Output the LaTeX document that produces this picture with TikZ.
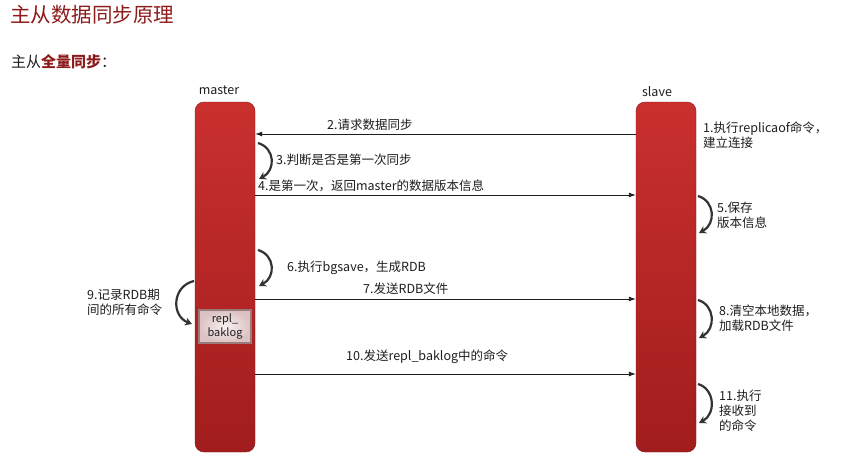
\documentclass[tikz,border=0pt]{standalone}
\usepackage{fontspec}
\setmainfont{Noto Sans CJK SC}
\newfontfamily\cjk{Noto Sans CJK SC}
\usetikzlibrary{arrows.meta}
\definecolor{titlered}{HTML}{8E1B1B}
\definecolor{bartop}{HTML}{C9302E}
\definecolor{barbot}{HTML}{A11D1D}
\definecolor{txt}{HTML}{1E1E1E}
\definecolor{curvc}{HTML}{333333}
\definecolor{loginner}{HTML}{F8F0F0}
\definecolor{logouter}{HTML}{DCC2C2}
\definecolor{logedge}{HTML}{9C7A7A}
\begin{document}
\begin{tikzpicture}[x=1pt,y=-1pt,
  bar/.style={rectangle, rounded corners=9pt, top color=bartop, bottom color=barbot,
    draw=barbot!80!black, line width=0.4pt, minimum width=60pt, minimum height=350pt, inner sep=0pt},
  lbl/.style={font=\cjk\fontsize{12.5}{15}\selectfont, text=txt, anchor=west, inner sep=0pt, align=left},
  hdr/.style={font=\cjk\fontsize{12.5}{15}\selectfont, text=txt, inner sep=0pt},
  msg/.style={draw=txt, line width=0.9pt, -{Latex[length=7pt,width=5pt]}},
  curv/.style={draw=curvc, line width=2.2pt, -{Stealth[length=7pt,width=8pt]}},
  logbox/.style={rectangle, inner color=loginner, outer color=logouter,
    draw=logedge, line width=1.2pt, minimum width=52pt, minimum height=33pt,
    font=\cjk\fontsize{11}{14}\selectfont, text=txt, align=center, inner sep=0pt}
]
\useasboundingbox (0,0) rectangle (856,455);
\fill[white] (0,0) rectangle (856,455);

% titles
\node[anchor=west, inner sep=0pt, font=\cjk\fontsize{20.5}{24}\selectfont, text=titlered] (title) at (10,15) {主从数据同步原理};
\node[anchor=west, inner sep=0pt, font=\cjk\fontsize{15}{18}\selectfont, text=txt] (sub) at (11,62) {主从\textcolor{titlered}{\textbf{全量同步}}：};

% bars
\node[bar] (master) at (225,277) {};
\node[bar] (slave) at (666,277) {};
\node[hdr] (mlabel) at (219,90) {master};
\node[hdr] (slabel) at (657,92) {slave};

% repl_baklog box
\node[logbox] (log) at (225,326.5) {repl\_\\baklog};

% coordinates for messages
\coordinate (y2) at (0,134);
\coordinate (y4) at (0,195);
\coordinate (y7) at (0,299);
\coordinate (y10) at (0,374);

\draw[msg] (slave.west |- y2) -- (master.east |- y2);
\draw[msg] (master.east |- y4) -- (slave.west |- y4);
\draw[msg] (master.east |- y7) -- (slave.west |- y7);
\draw[msg] (master.east |- y10) -- (slave.west |- y10);

% self curves
\coordinate (c3a) at (258,143); \coordinate (c3b) at (259,179);
\draw[curv] (c3a) .. controls (275,148) and (276,170) .. (c3b);
\coordinate (c6a) at (258,250); \coordinate (c6b) at (259,286);
\draw[curv] (c6a) .. controls (275,255) and (276,277) .. (c6b);
\coordinate (c5a) at (698,196); \coordinate (c5b) at (699,233);
\draw[curv] (c5a) .. controls (715,201) and (716,224) .. (c5b);
\coordinate (c8a) at (698,300); \coordinate (c8b) at (699,338);
\draw[curv] (c8a) .. controls (715,305) and (716,329) .. (c8b);
\coordinate (c11a) at (698,384); \coordinate (c11b) at (699,423);
\draw[curv] (c11a) .. controls (715,389) and (716,414) .. (c11b);
\coordinate (c9a) at (194,281); \coordinate (c9b) at (192,324);
\draw[curv] (c9a) .. controls (172,286) and (171,316) .. (c9b);

% labels
\node[lbl] (l2) at (327,125) {2.请求数据同步};
\node[lbl] (l3) at (276,160) {3.判断是否是第一次同步};
\node[lbl] (l4) at (258,186) {4.是第一次，返回master的数据版本信息};
\node[lbl] (l1) at (703,135) {1.执行replicaof命令，\\建立连接};
\node[lbl] (l5) at (717,215) {5.保存\\版本信息};
\node[lbl] (l6) at (287,268) {6.执行bgsave，生成RDB};
\node[lbl] (l7) at (363,289) {7.发送RDB文件};
\node[lbl] (l8) at (719,318) {8.清空本地数据，\\加载RDB文件};
\node[lbl] (l9) at (87,302) {9.记录RDB期\\间的所有命令};
\node[lbl] (l10) at (346,357) {10.发送repl\_baklog中的命令};
\node[lbl] (l11) at (719,411) {11.执行\\接收到\\的命令};
\end{tikzpicture}
\end{document}
